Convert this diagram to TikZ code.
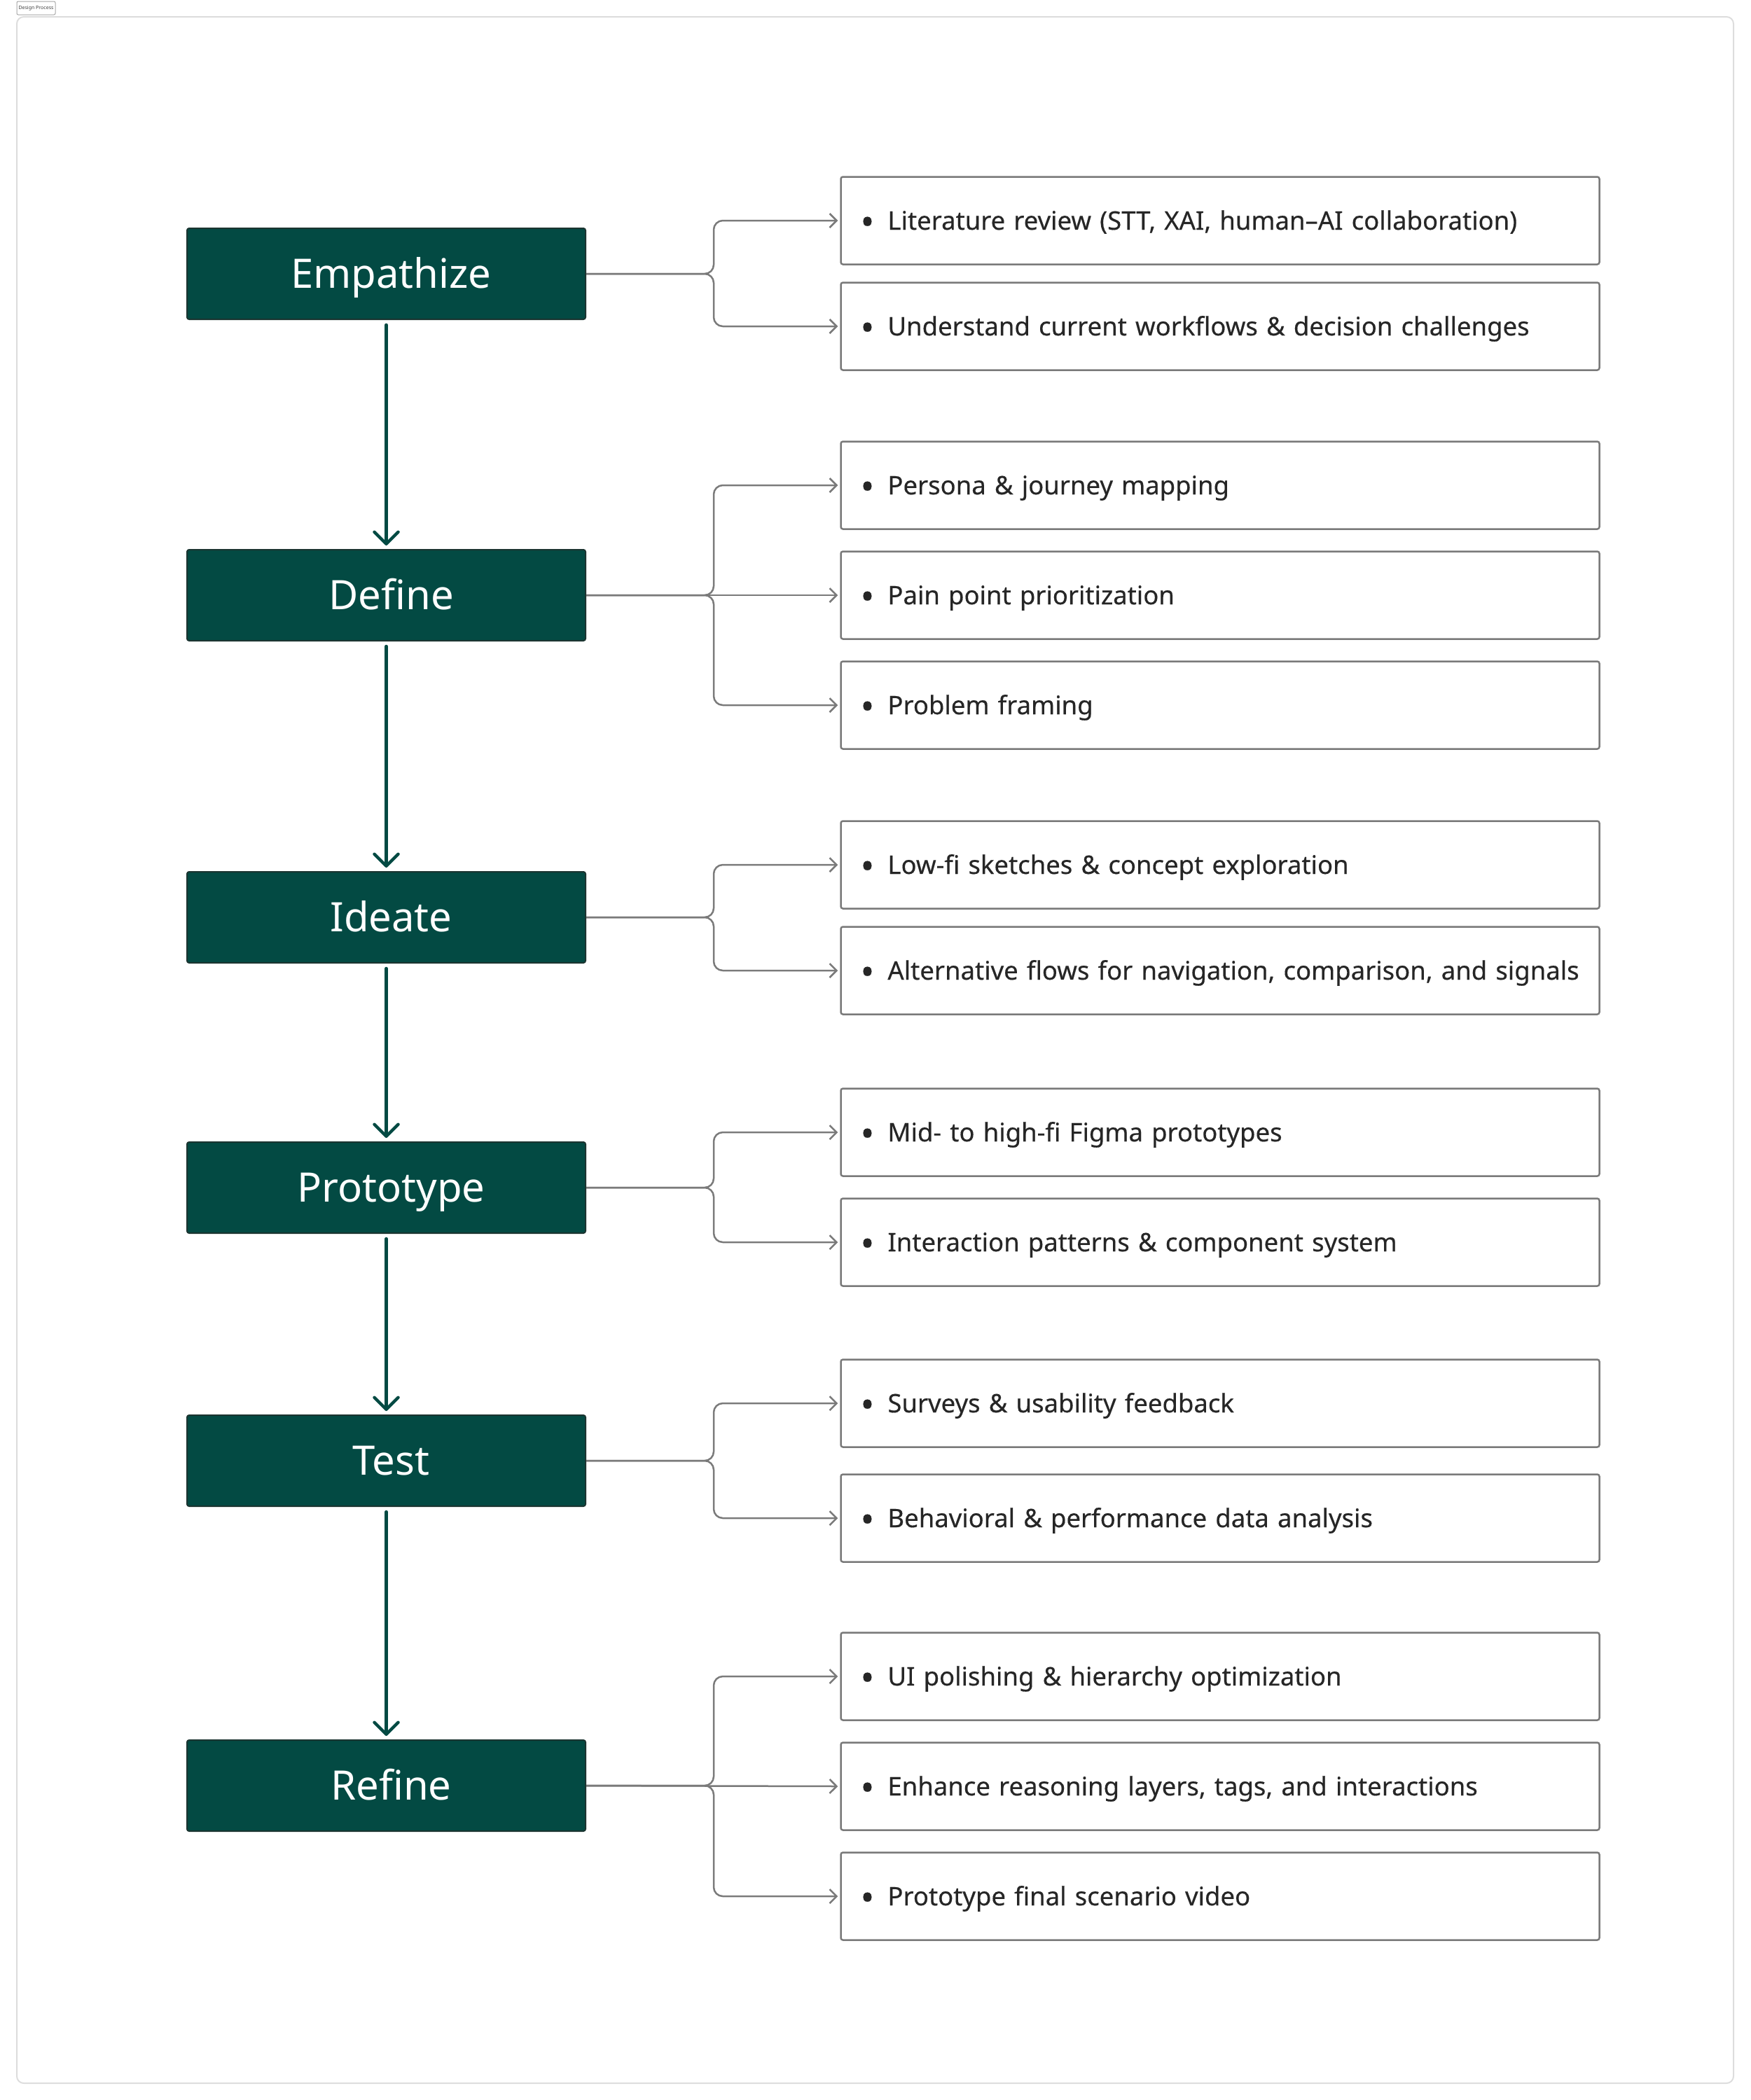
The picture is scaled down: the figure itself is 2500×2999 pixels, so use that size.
\documentclass[tikz,border=0pt]{standalone}
\usepackage{fontspec}
\setmainfont{Noto Sans}
\newfontfamily\itemfont[FakeBold=0.35]{Noto Sans}
\usepackage{tikz}
\usetikzlibrary{arrows.meta,positioning}

\definecolor{stagegreen}{HTML}{034A43}
\definecolor{stageedge}{HTML}{1B3430}
\definecolor{linegray}{HTML}{7A7A7A}
\definecolor{itemtext}{HTML}{262626}
\definecolor{framegray}{HTML}{DDDDDD}

\newcommand{\itembullet}{\raisebox{-7.5pt}{\scalebox{1.45}{\textbullet}}\hspace{19pt}}

\begin{document}
\begin{tikzpicture}[x=1pt, y=-1pt,
  stage/.style={draw=stageedge, line width=2pt, fill=stagegreen, rounded corners=3pt, minimum width=569pt, minimum height=130pt, text=white, font=\fontsize{58}{62}\selectfont, text height=41pt, text depth=0pt, inner sep=0pt, execute at begin node=\hspace*{14pt}},
  item/.style={draw=linegray, line width=2.5pt, rounded corners=3pt, minimum height=125pt, text width=1027pt, align=left, inner xsep=28pt, inner ysep=0pt, text=itemtext, font=\itemfont\fontsize{36.5}{40}\selectfont, text height=26pt, text depth=0pt},
  flow/.style={draw=stagegreen, line width=4.5pt, line cap=round, -{Straight Barb[length=17pt, width=34pt, line cap=round, line join=round]}},
  conn/.style={draw=linegray, line width=2.5pt, rounded corners=13pt, -{Straight Barb[length=10pt, width=20pt]}, shorten >=3pt}
]
\useasboundingbox (0,0) rectangle (2500,2999);

% outer frame and tab
\draw[framegray, line width=2pt, rounded corners=10pt] (24,24) rectangle (2475,2975);
\node[draw=black!35, line width=1pt, rounded corners=2pt, minimum width=55pt, minimum height=19pt, inner sep=0pt, font=\fontsize{7}{8}\selectfont, text=black!75] (tab) at (51.5,11.5) {Design Process};

% stages
\node[stage] (emp) at (551.5,391) {Empathize};
\node[stage] (def) at (551.5,850) {Define};
\node[stage] (ide) at (551.5,1310) {Ideate};
\node[stage] (pro) at (551.5,1696) {Prototype};
\node[stage] (tes) at (551.5,2086) {Test};
\node[stage] (ref) at (551.5,2550) {Refine};

% activities
\node[item] (e1) at (1742,315) {\itembullet Literature review (STT, XAI, human–AI collaboration)};
\node[item] (e2) at (1742,466) {\itembullet Understand current workflows \& decision challenges};
\node[item] (d1) at (1742,693) {\itembullet Persona \& journey mapping};
\node[item] (d2) at (1742,850) {\itembullet Pain point prioritization};
\node[item] (d3) at (1742,1007) {\itembullet Problem framing};
\node[item] (i1) at (1742,1235) {\itembullet Low-fi sketches \& concept exploration};
\node[item] (i2) at (1742,1386) {\itembullet Alternative flows for navigation, comparison, and signals};
\node[item] (p1) at (1742,1617) {\itembullet Mid- to high-fi Figma prototypes};
\node[item] (p2) at (1742,1774) {\itembullet Interaction patterns \& component system};
\node[item] (t1) at (1742,2004) {\itembullet Surveys \& usability feedback};
\node[item] (t2) at (1742,2168) {\itembullet Behavioral \& performance data analysis};
\node[item] (r1) at (1742,2394) {\itembullet UI polishing \& hierarchy optimization};
\node[item] (r2) at (1742,2551) {\itembullet Enhance reasoning layers, tags, and interactions};
\node[item] (r3) at (1742,2708) {\itembullet Prototype final scenario video};

% main flow
\draw[flow, shorten <=7pt, shorten >=5pt] (emp) -- (def);
\draw[flow, shorten <=7pt, shorten >=5pt] (def) -- (ide);
\draw[flow, shorten <=7pt, shorten >=5pt] (ide) -- (pro);
\draw[flow, shorten <=7pt, shorten >=5pt] (pro) -- (tes);
\draw[flow, shorten <=7pt, shorten >=5pt] (tes) -- (ref);

% branches
\draw[conn] (emp.east) -- ++(182,0) |- (e1.west);
\draw[conn] (emp.east) -- ++(182,0) |- (e2.west);
\draw[conn] (def.east) -- ++(182,0) |- (d1.west);
\draw[conn] (def.east) -- (d2.west);
\draw[conn] (def.east) -- ++(182,0) |- (d3.west);
\draw[conn] (ide.east) -- ++(182,0) |- (i1.west);
\draw[conn] (ide.east) -- ++(182,0) |- (i2.west);
\draw[conn] (pro.east) -- ++(182,0) |- (p1.west);
\draw[conn] (pro.east) -- ++(182,0) |- (p2.west);
\draw[conn] (tes.east) -- ++(182,0) |- (t1.west);
\draw[conn] (tes.east) -- ++(182,0) |- (t2.west);
\draw[conn] (ref.east) -- ++(182,0) |- (r1.west);
\draw[conn] (ref.east) -- (r2.west);
\draw[conn] (ref.east) -- ++(182,0) |- (r3.west);

\end{tikzpicture}
\end{document}
